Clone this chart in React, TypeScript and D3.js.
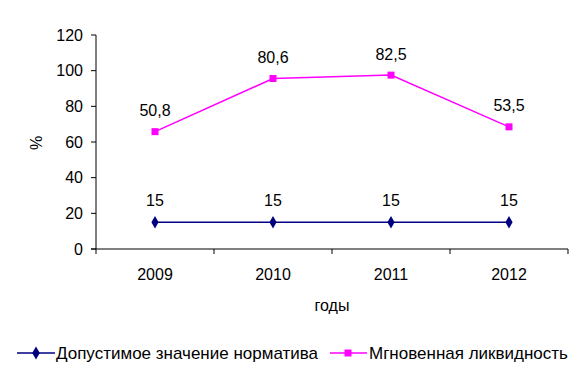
import React from "react";
import * as d3 from "d3";

const years = ["2009", "2010", "2011", "2012"];
const normValues = [15, 15, 15, 15];
const liquidityValues = [50.8, 80.6, 82.5, 53.5];
const yTicks = [0, 20, 40, 60, 80, 100, 120];
const seriesNames = ["Допустимое значение норматива", "Мгновенная ликвидность"];

const W = 588, H = 376;
const font = "'Liberation Sans', Arial, sans-serif";
const BLUE = "#000080";
const MAGENTA = "#FF00FF";
const FS = 16;

export default function App() {
  const x = d3.scaleBand<string>().domain(years).range([96, 568]);
  const y = d3.scaleLinear().domain([0, 120]).range([249, 35]);
  const cx = (d: string) => (x(d) as number) + x.bandwidth() / 2;

  // stacked line: second series sits on top of the first
  const stacked = liquidityValues.map((v, i) => v + normValues[i]);

  const line = d3.line<number>().x((_, i) => cx(years[i])).y((d) => y(d));
  const fmt = (v: number) => String(v).replace(".", ",");

  const boundaries = [...years.map((d) => x(d) as number), 568];

  return (
    <svg width={W} height={H} style={{ position: "absolute", left: 0, top: 0, background: "#fff" }} fontFamily={font}>
      {/* y axis */}
      <line x1={96} x2={96} y1={35} y2={249} stroke="#000" />
      {yTicks.map((t) => (
        <g key={t}>
          <line x1={91} x2={96} y1={y(t)} y2={y(t)} stroke="#000" />
          <text x={83} y={y(t)} dy="0.35em" textAnchor="end" fontSize={FS} fill="#000">{t}</text>
        </g>
      ))}
      <text transform={`translate(42,143) rotate(-90)`} textAnchor="middle" fontSize={FS} fill="#000">%</text>

      {/* x axis */}
      <line x1={91} x2={568} y1={249} y2={249} stroke="#000" />
      {boundaries.map((b, i) => (
        <line key={i} x1={b} x2={b} y1={249} y2={254} stroke="#000" />
      ))}
      {years.map((d) => (
        <text key={d} x={cx(d)} y={274} dy="0.35em" textAnchor="middle" fontSize={FS} fill="#000">{d}</text>
      ))}
      <text x={332} y={305} dy="0.35em" textAnchor="middle" fontSize={FS} fill="#000">годы</text>

      {/* series 1 */}
      <path d={line(normValues) || ""} fill="none" stroke={BLUE} strokeWidth={1.5} />
      {normValues.map((v, i) => (
        <g key={i}>
          <path d={d3.symbol(d3.symbolDiamond, 45)() || ""} transform={`translate(${cx(years[i])},${y(v)})`} fill={BLUE} />
          <text x={cx(years[i])} y={y(v) - 22} dy="0.35em" textAnchor="middle" fontSize={FS} fill="#000">{fmt(v)}</text>
        </g>
      ))}

      {/* series 2 */}
      <path d={line(stacked) || ""} fill="none" stroke={MAGENTA} strokeWidth={1.5} />
      {stacked.map((v, i) => (
        <g key={i}>
          <rect x={cx(years[i]) - 3.5} y={y(v) - 3.5} width={7} height={7} fill={MAGENTA} />
          <text x={cx(years[i])} y={y(v) - 21} dy="0.35em" textAnchor="middle" fontSize={FS} fill="#000">{fmt(liquidityValues[i])}</text>
        </g>
      ))}

      {/* legend */}
      <g>
        <line x1={17} x2={55} y1={353} y2={353} stroke={BLUE} strokeWidth={1.5} />
        <path d={d3.symbol(d3.symbolDiamond, 50)() || ""} transform="translate(36,353)" fill={BLUE} />
        <text x={56} y={353} dy="0.35em" fontSize={17} fill="#000">{seriesNames[0]}</text>
        <line x1={330} x2={367} y1={353} y2={353} stroke={MAGENTA} strokeWidth={1.5} />
        <rect x={344.5} y={349.5} width={7} height={7} fill={MAGENTA} />
        <text x={369} y={353} dy="0.35em" fontSize={17} fill="#000">{seriesNames[1]}</text>
      </g>
    </svg>
  );
}
